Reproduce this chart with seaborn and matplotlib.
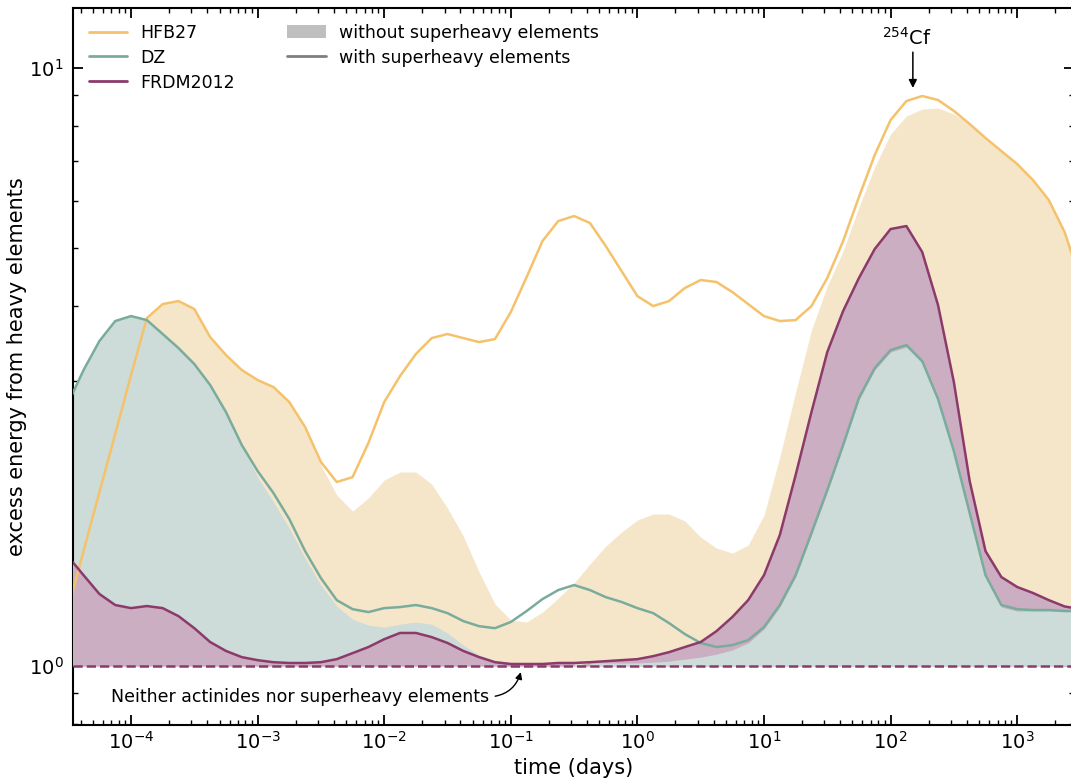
import numpy as np
import pandas as pd
import matplotlib
matplotlib.use("Agg")
import matplotlib.pyplot as plt
import seaborn as sns
from matplotlib.lines import Line2D
from matplotlib.patches import Patch
from matplotlib.ticker import NullFormatter, LogLocator

# ---------------- data ----------------
log_time = np.arange(-4.5, 3.5001, 0.125)          # sampling grid, log10(days)
time_days = 10 ** log_time

models = ["HFB27", "DZ", "FRDM2012"]

hfb27_with = [
    1.241, 1.557, 1.954, 2.443, 3.066, 3.818, 4.030, 4.077, 3.954, 3.549,
    3.312, 3.126, 3.008, 2.928, 2.764, 2.510, 2.194, 2.031, 2.070, 2.360,
    2.764, 3.054, 3.325, 3.535, 3.591, 3.535, 3.481, 3.522, 3.908, 4.472,
    5.136, 5.548, 5.656, 5.506, 5.039, 4.576, 4.156, 3.999, 4.077, 4.287,
    4.421, 4.387, 4.221, 4.030, 3.848, 3.775, 3.789, 3.999, 4.455, 5.136,
    6.085, 7.155, 8.185, 8.806, 8.979, 8.841, 8.477, 8.061, 7.638, 7.264,
    6.910, 6.496, 6.015, 5.317, 4.421]
hfb27_without = [
    1.241, 1.557, 1.954, 2.443, 3.066, 3.818, 4.030, 4.077, 3.954, 3.549,
    3.312, 3.126, 3.008, 2.928, 2.764, 2.481, 2.168, 1.932, 1.816, 1.910,
    2.047, 2.111, 2.111, 2.015, 1.837, 1.650, 1.436, 1.270, 1.194, 1.185,
    1.231, 1.299, 1.377, 1.481, 1.587, 1.675, 1.755, 1.796, 1.796, 1.748,
    1.643, 1.575, 1.545, 1.593, 1.788, 2.236, 2.872, 3.646, 4.320, 4.943,
    5.855, 6.831, 7.757, 8.313, 8.540, 8.573, 8.379, 8.061, 7.638, 7.264,
    6.910, 6.496, 6.015, 5.317, 4.421]
dz_with = [
    2.743, 3.126, 3.495, 3.775, 3.848, 3.789, 3.591, 3.402, 3.199, 2.951,
    2.659, 2.342, 2.119, 1.947, 1.762, 1.557, 1.403, 1.289, 1.245, 1.231,
    1.250, 1.255, 1.265, 1.250, 1.226, 1.189, 1.166, 1.157, 1.185, 1.236,
    1.294, 1.340, 1.366, 1.340, 1.304, 1.280, 1.250, 1.226, 1.180, 1.131,
    1.093, 1.076, 1.084, 1.105, 1.162, 1.265, 1.419, 1.669, 1.969, 2.342,
    2.807, 3.150, 3.376, 3.442, 3.236, 2.796, 2.288, 1.803, 1.419, 1.265,
    1.245, 1.241, 1.241, 1.236, 1.236]
dz_without = [
    2.743, 3.126, 3.495, 3.775, 3.848, 3.789, 3.591, 3.402, 3.199, 2.951,
    2.659, 2.342, 2.070, 1.881, 1.701, 1.515, 1.366, 1.260, 1.198, 1.171,
    1.162, 1.175, 1.185, 1.175, 1.136, 1.084, 1.043, 1.023, 1.015, 1.012,
    1.012, 1.012, 1.012, 1.012, 1.012, 1.012, 1.012, 1.015, 1.019, 1.027,
    1.035, 1.047, 1.064, 1.093, 1.153, 1.255, 1.409, 1.656, 1.954, 2.324,
    2.785, 3.126, 3.350, 3.415, 3.211, 2.774, 2.271, 1.788, 1.409, 1.255,
    1.236, 1.236, 1.236, 1.236, 1.236]
frdm_with = [
    1.527, 1.419, 1.320, 1.265, 1.250, 1.260, 1.250, 1.212, 1.157, 1.097,
    1.060, 1.035, 1.023, 1.015, 1.012, 1.012, 1.015, 1.027, 1.051, 1.076,
    1.109, 1.136, 1.136, 1.118, 1.093, 1.060, 1.035, 1.015, 1.008, 1.008,
    1.008, 1.012, 1.012, 1.015, 1.019, 1.023, 1.027, 1.039, 1.055, 1.076,
    1.097, 1.144, 1.208, 1.289, 1.419, 1.656, 2.086, 2.659, 3.350, 3.923,
    4.455, 4.982, 5.380, 5.442, 4.924, 4.014, 2.985, 2.039, 1.557, 1.409,
    1.356, 1.325, 1.289, 1.258, 1.245]
frdm_without = list(frdm_with)

baseline = 1.0
x_decades = [1e-4, 1e-3, 1e-2, 1e-1, 1e0, 1e1, 1e2, 1e3]

line_colors = {"HFB27": "#F5C26B", "DZ": "#79AC9C", "FRDM2012": "#8C3A6B"}
fill_colors = {"HFB27": "#F6E6C9", "DZ": "#CDDCD9", "FRDM2012": "#CBAEC1"}

# ---------------- style ----------------
sns.set_style("ticks")
plt.rcParams["font.family"] = ["DejaVu Sans"]
plt.rcParams.update({
    "axes.linewidth": 1.5,
    "axes.edgecolor": "black",
    "axes.labelcolor": "black",
    "text.color": "black",
    "xtick.color": "black",
    "ytick.color": "black",
})

fig = plt.figure(figsize=(10.71, 7.8), dpi=100)
ax = fig.add_axes([0.06816, 0.07051, 0.93464, 0.91923])
ax.set_xscale("log")
ax.set_yscale("log")

# ---------------- fills (without superheavy elements) ----------------
one = np.full_like(time_days, baseline)
h = np.array(hfb27_without)
d = np.array(dz_without)
f = np.array(frdm_without)
ax.fill_between(time_days, one, h, color=fill_colors["HFB27"], lw=0, zorder=1)
# larger of DZ / FRDM behind, smaller in front
ax.fill_between(time_days, one, d, where=d >= f, interpolate=True,
                color=fill_colors["DZ"], lw=0, zorder=2)
ax.fill_between(time_days, one, f, where=f > d, interpolate=True,
                color=fill_colors["FRDM2012"], lw=0, zorder=2)
ax.fill_between(time_days, one, d, where=d < f, interpolate=True,
                color=fill_colors["DZ"], lw=0, zorder=3)
ax.fill_between(time_days, one, f, where=f <= d, interpolate=True,
                color=fill_colors["FRDM2012"], lw=0, zorder=3)

# ---------------- lines (with superheavy elements) ----------------
df = pd.DataFrame({
    "time": np.tile(time_days, 3),
    "energy": np.concatenate([hfb27_with, dz_with, frdm_with]),
    "model": np.repeat(models, len(time_days)),
})
sns.lineplot(data=df, x="time", y="energy", hue="model", hue_order=models,
             palette=line_colors, estimator=None, lw=1.8, legend=False,
             solid_joinstyle="round", ax=ax, zorder=4)

ax.axhline(baseline, color=line_colors["FRDM2012"], ls="--", lw=1.8, zorder=5)

# ---------------- axes ----------------
ax.set_xlim(3.48e-5, 2812)
ax.set_ylim(0.797, 12.6)
ax.set_xticks(x_decades)
ax.xaxis.set_minor_locator(LogLocator(base=10, subs=np.arange(2, 10), numticks=30))
ax.xaxis.set_minor_formatter(NullFormatter())
ax.yaxis.set_minor_formatter(NullFormatter())
ax.tick_params(which="both", direction="in", top=True, right=True, labelsize=14)
ax.tick_params(which="major", length=7, width=1.3)
ax.tick_params(which="minor", length=3.5, width=1.0)
ax.tick_params(axis="y", pad=7)
ax.tick_params(axis="x", pad=4)
ax.set_xlabel("time (days)", fontsize=15)
ax.set_ylabel("excess energy from heavy elements", fontsize=15, labelpad=1)

# ---------------- legend ----------------
handles = [Line2D([], [], color=line_colors[m], lw=2) for m in models]
handles += [Patch(facecolor="#BFBFBF", edgecolor="none"),
            Line2D([], [], color="#7F7F7F", lw=2)]
labels = models + ["without superheavy elements", "with superheavy elements"]
ax.legend(handles, labels, ncol=2, loc="upper left", frameon=False,
          fontsize=12.5, columnspacing=3.0, labelspacing=0.4, handlelength=2.2)

# ---------------- annotations ----------------
ax.text(135, 11.22, r"$^{254}$Cf", ha="center", va="center", fontsize=14, zorder=6)
ax.annotate("", xy=(150, 9.26), xytext=(150, 10.63),
            arrowprops=dict(arrowstyle="-|>", color="black", lw=1.1,
                            shrinkA=0, shrinkB=0, mutation_scale=12), zorder=6)
ax.annotate("Neither actinides nor superheavy elements",
            xy=(0.12, 0.977), xytext=(6.95e-5, 0.888),
            ha="left", va="center", fontsize=12.5,
            arrowprops=dict(arrowstyle="-|>", color="black", lw=1.0,
                            connectionstyle="arc3,rad=0.35", relpos=(1, 0.5),
                            shrinkA=2, shrinkB=0, mutation_scale=10), zorder=6)

fig.savefig("out.png", dpi=100)
